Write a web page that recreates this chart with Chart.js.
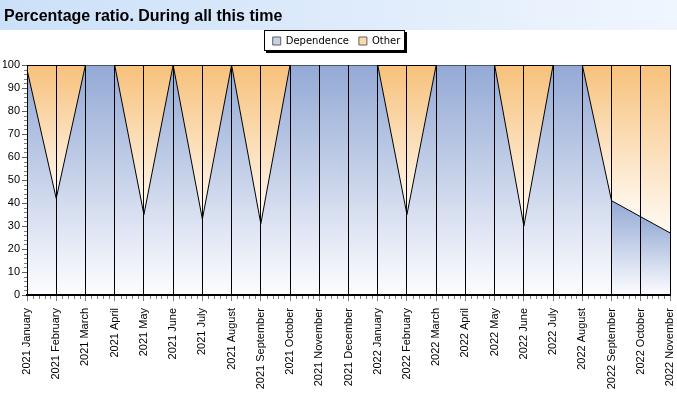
<!DOCTYPE html>
<html>
<head>
<meta charset="utf-8">
<script src="https://cdn.jsdelivr.net/npm/chart.js@4.4.0/dist/chart.umd.min.js"></script>
<style>
	html, body { margin: 0; padding: 0; background: #fff; }
	#wrap { position: relative; width: 677px; height: 399px; }
</style>
</head>
<body>
<div id="wrap"><canvas id="myChart" width="677" height="399"></canvas></div>
<script>
const title = "Percentage ratio. During all this time";

const months = [
	"2021 January", "2021 February", "2021 March", "2021 April", "2021 May", "2021 June",
	"2021 July", "2021 August", "2021 September", "2021 October", "2021 November", "2021 December",
	"2022 January", "2022 February", "2022 March", "2022 April", "2022 May", "2022 June",
	"2022 July", "2022 August", "2022 September", "2022 October", "2022 November",
];
const dependence = [98, 42, 100, 100, 35, 100, 33, 100, 31, 100, 100, 100, 100, 35, 100, 100, 100, 30, 100, 100, 41, 34, 27];
const other = [2, 58, 0, 0, 65, 0, 67, 0, 69, 0, 0, 0, 0, 65, 0, 0, 0, 70, 0, 0, 59, 66, 73];
const yTicks = [0, 10, 20, 30, 40, 50, 60, 70, 80, 90, 100];

// each area piece gets its own gradient, from its top down
function blueFill(c) {
	const chart = c.chart;
	const area = chart.chartArea;
	if (!area || !c.p0 || !c.p1) return "#c6d0e6";
	const top = Math.min(c.p0.y, c.p1.y);
	const g = chart.ctx.createLinearGradient(0, top, 0, area.bottom);
	g.addColorStop(0, "#93a9d5");
	g.addColorStop(1, "#fdfdff");
	return g;
}

function orangeFill(c) {
	const chart = c.chart;
	const area = chart.chartArea;
	if (!area || !c.p0 || !c.p1) return "#fcd9ad";
	const dep = chart.getDatasetMeta(0).data;
	let bottom = Math.max(dep[c.p0DataIndex].y, dep[c.p1DataIndex].y);
	if (bottom - area.top < 1) bottom = area.top + 1;
	const g = chart.ctx.createLinearGradient(0, area.top, 0, bottom);
	g.addColorStop(0, "#f7c17b");
	g.addColorStop(1, "#fffaf3");
	return g;
}

const chrome = {
	id: "chrome",
	beforeDraw(chart) {
		const ctx = chart.ctx;
		ctx.save();
		const g = ctx.createLinearGradient(0, 0, chart.width, 0);
		g.addColorStop(0, "#cbe0f8");
		g.addColorStop(1, "#f0f6fe");
		ctx.fillStyle = g;
		ctx.fillRect(0, 0, chart.width, 30);
		ctx.fillStyle = "#000";
		ctx.font = "bold 16px Arial, 'Liberation Sans'";
		ctx.textAlign = "left";
		ctx.textBaseline = "alphabetic";
		ctx.fillText(title, 4, 21);

		// legend frame with shadow
		const boxes = chart.legend.legendHitBoxes;
		if (boxes && boxes.length) {
			const first = boxes[0];
			const last = boxes[boxes.length - 1];
			const l = Math.round(first.left - 9);
			const r = Math.round(last.left + last.width + 5);
			const t = Math.round(first.top - 6);
			const b = Math.round(first.top + first.height + 5);
			ctx.fillStyle = "#000";
			ctx.fillRect(l + 2, t + 2, r - l, b - t);
			ctx.fillRect(l, t, r - l, b - t);
			ctx.fillStyle = "#fff";
			ctx.fillRect(l + 1, t + 1, r - l - 2, b - t - 2);
		}
		ctx.restore();
	},
	afterDraw(chart) {
		// minor ticks
		const ctx = chart.ctx;
		const x = chart.scales.x;
		const y = chart.scales.y;
		const area = chart.chartArea;
		ctx.save();
		ctx.strokeStyle = "#808080";
		ctx.lineWidth = 1;
		ctx.beginPath();
		for (let i = 0; i < months.length - 1; i++) {
			const a = x.getPixelForValue(i);
			const b = x.getPixelForValue(i + 1);
			for (let k = 1; k < 5; k++) {
				const px = Math.round(a + (b - a) * k / 5) + 0.5;
				ctx.moveTo(px, area.bottom + 1);
				ctx.lineTo(px, area.bottom + 4);
			}
		}
		for (let v = 2; v < 100; v += 2) {
			if (v % 10 === 0) continue;
			const py = Math.round(y.getPixelForValue(v)) + 0.5;
			ctx.moveTo(area.left - 3, py);
			ctx.lineTo(area.left, py);
		}
		ctx.stroke();
		ctx.restore();
	},
};

const ctx = document.getElementById("myChart");

const myChart = new Chart(ctx, {
	type: "line",
	data: {
		labels: months,
		datasets: [
			{
				label: "Dependence",
				data: dependence,
				backgroundColor: "#c6d0e6",
				borderColor: "#000",
				borderWidth: 1,
				pointRadius: 0,
				tension: 0,
				fill: "origin",
				segment: { backgroundColor: blueFill },
			},
			{
				label: "Other",
				data: other,
				backgroundColor: "#fcd9ad",
				borderColor: "#000",
				borderWidth: 2,
				pointRadius: 0,
				tension: 0,
				fill: "-1",
				segment: { backgroundColor: orangeFill },
			},
		],
	},
	options: {
		responsive: false,
		animation: false,
		layout: { padding: { left: 3, right: 7, top: 26, bottom: 0 } },
		plugins: {
			title: { display: false },
			tooltip: { enabled: false },
			legend: {
				display: true,
				position: "top",
				labels: {
					boxWidth: 8,
					boxHeight: 8,
					padding: 10,
					color: "#000",
					font: { family: "'DejaVu Sans'", size: 10 },
					generateLabels(chart) {
						return chart.data.datasets.map((ds, i) => ({
							text: ds.label,
							fillStyle: ds.backgroundColor,
							strokeStyle: "#606060",
							lineWidth: 1,
							hidden: false,
							datasetIndex: i,
							fontColor: "#000",
						}));
					},
				},
			},
		},
		scales: {
			// empty spacer between the legend and the plot
			x2: {
				type: "category",
				position: "top",
				display: true,
				afterFit(scale) { scale.height = 9; },
				grid: { display: false },
				ticks: { display: false },
				border: { display: false },
			},
			x: {
				offset: false,
				afterFit(scale) {
					scale.height = 104;
					scale.paddingLeft = 0;
					scale.paddingRight = 0;
				},
				grid: {
					z: 1,
					color: "#000",
					lineWidth: 1,
					drawOnChartArea: true,
					tickColor: "#808080",
					tickLength: 6,
				},
				// same layer as the grid, so it is drawn after the grid sets its position
				border: { color: "#000", width: 2, z: 1 },
				ticks: {
					autoSkip: false,
					maxRotation: 90,
					minRotation: 90,
					padding: 7,
					color: "#000",
					font: { family: "Arial, 'Liberation Sans'", size: 11 },
				},
			},
			y: {
				stacked: true,
				min: 0,
				max: 100,
				afterFit(scale) { scale.width = 24; },
				afterBuildTicks(scale) { scale.ticks = yTicks.map(v => ({ value: v })); },
				grid: {
					drawOnChartArea: false,
					tickColor: "#606060",
					tickLength: 5,
				},
				border: { color: "#000", width: 1 },
				ticks: {
					padding: 2,
					color: "#000",
					font: { family: "Arial, 'Liberation Sans'", size: 11 },
				},
			},
		},
	},
	plugins: [chrome],
});
</script>
</body>
</html>
